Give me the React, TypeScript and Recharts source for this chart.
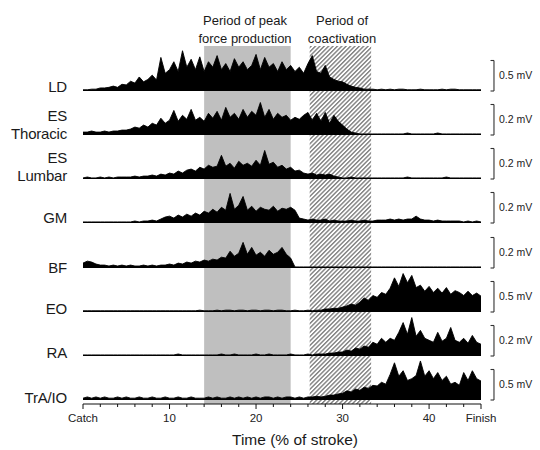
import React from 'react';
import {
  AreaChart,
  Area,
  ComposedChart,
  Line,
  XAxis,
  YAxis,
  ReferenceArea,
  ReferenceLine,
} from 'recharts';

// ---------- data ----------
// sample step along the stroke (% of stroke)
const T_STEP = 0.5;
const X_DOMAIN = [0, 46];

const AXIS_TICKS = [0, 2, 4, 6, 8, 10, 12, 14, 16, 18, 20, 22, 24, 26, 28, 30, 32, 34, 36, 38, 40, 42, 44, 46];
const MAJOR_TICKS = [0, 10, 20, 30, 40, 46];
const TICK_LABELS: Record<number, string> = { 0: 'Catch', 10: '10', 20: '20', 30: '30', 40: '40', 46: 'Finish' };

const PEAK_FORCE = [14, 24];
const COACTIVATION = [26.2, 33.3];

const MUSCLES = ['LD', 'ES Thoracic', 'ES Lumbar', 'GM', 'BF', 'EO', 'RA', 'TrA/IO'];
const SCALES = [0.5, 0.2, 0.2, 0.2, 0.2, 0.5, 0.2, 0.5];

// EMG envelopes, mV
const LD = [
  0.02, 0.02, 0.03, 0.03, 0.05, 0.05, 0.06, 0.08, 0.06, 0.11,
  0.10, 0.16, 0.13, 0.23, 0.15, 0.19, 0.26, 0.18, 0.55, 0.29,
  0.35, 0.48, 0.32, 0.66, 0.39, 0.52, 0.35, 0.56, 0.32, 0.48,
  0.39, 0.58, 0.35, 0.45, 0.32, 0.53, 0.39, 0.48, 0.35, 0.42,
  0.60, 0.35, 0.55, 0.39, 0.45, 0.32, 0.48, 0.35, 0.42, 0.32,
  0.39, 0.29, 0.45, 0.58, 0.32, 0.29, 0.42, 0.23, 0.19, 0.16,
  0.15, 0.11, 0.08, 0.06, 0.05, 0.03, 0.03, 0.03, 0.02, 0.03,
  0.02, 0.03, 0.02, 0.03, 0.03, 0.02, 0.02, 0.02, 0.03, 0.02,
  0.02, 0.02, 0.02, 0.03, 0.02, 0.03, 0.03, 0.02, 0.02, 0.02,
  0.02, 0.02, 0.02,
];

const ES_THORACIC = [
  0.019, 0.019, 0.026, 0.019, 0.019, 0.026, 0.019, 0.026, 0.026, 0.032,
  0.032, 0.039, 0.052, 0.045, 0.065, 0.052, 0.077, 0.065, 0.11, 0.077,
  0.097, 0.161, 0.09, 0.129, 0.103, 0.168, 0.097, 0.116, 0.09, 0.142,
  0.11, 0.155, 0.097, 0.181, 0.116, 0.142, 0.103, 0.168, 0.116, 0.155,
  0.129, 0.213, 0.116, 0.168, 0.103, 0.142, 0.116, 0.129, 0.097, 0.116,
  0.103, 0.129, 0.148, 0.097, 0.142, 0.09, 0.148, 0.077, 0.129, 0.09,
  0.065, 0.039, 0.019, 0.013, 0.007, 0.007, 0.007, 0.007, 0.007, 0.007,
  0.007, 0.007, 0.007, 0.007, 0.007, 0.013, 0.007, 0.007, 0.007, 0.007,
  0.007, 0.007, 0.013, 0.007, 0.007, 0.007, 0.007, 0.007, 0.007, 0.007,
  0.007, 0.007, 0.007,
];

const ES_LUMBAR = [
  0.007, 0.013, 0.007, 0.007, 0.013, 0.007, 0.013, 0.007, 0.013, 0.013,
  0.013, 0.013, 0.019, 0.013, 0.019, 0.019, 0.026, 0.019, 0.032, 0.026,
  0.039, 0.032, 0.052, 0.039, 0.058, 0.065, 0.052, 0.077, 0.065, 0.09,
  0.077, 0.084, 0.155, 0.084, 0.103, 0.071, 0.116, 0.09, 0.103, 0.084,
  0.123, 0.09, 0.187, 0.097, 0.11, 0.077, 0.09, 0.065, 0.077, 0.052,
  0.058, 0.039, 0.032, 0.039, 0.026, 0.032, 0.026, 0.032, 0.019, 0.013,
  0.007, 0.007, 0.013, 0.007, 0.007, 0.007, 0.007, 0.007, 0.007, 0.007,
  0.007, 0.007, 0.007, 0.007, 0.007, 0.013, 0.007, 0.007, 0.007, 0.007,
  0.007, 0.007, 0.007, 0.007, 0.013, 0.007, 0.007, 0.007, 0.007, 0.007,
  0.007, 0.007, 0.007,
];

const GM = [
  0.007, 0.007, 0.007, 0.007, 0.007, 0.007, 0.007, 0.007, 0.007, 0.007,
  0.007, 0.007, 0.013, 0.007, 0.013, 0.013, 0.019, 0.013, 0.026, 0.039,
  0.045, 0.032, 0.052, 0.039, 0.058, 0.045, 0.065, 0.052, 0.077, 0.065,
  0.09, 0.071, 0.103, 0.084, 0.194, 0.09, 0.116, 0.174, 0.084, 0.11,
  0.077, 0.103, 0.09, 0.084, 0.11, 0.077, 0.097, 0.09, 0.103, 0.084,
  0.032, 0.026, 0.019, 0.026, 0.019, 0.019, 0.026, 0.013, 0.019, 0.013,
  0.013, 0.013, 0.019, 0.013, 0.013, 0.019, 0.013, 0.013, 0.019, 0.019,
  0.019, 0.026, 0.019, 0.026, 0.019, 0.026, 0.026, 0.045, 0.026, 0.019,
  0.019, 0.013, 0.019, 0.013, 0.013, 0.013, 0.013, 0.013, 0.007, 0.013,
  0.007, 0.013, 0.007,
];

const BF = [
  0.032, 0.045, 0.039, 0.026, 0.019, 0.019, 0.013, 0.019, 0.013, 0.019,
  0.013, 0.019, 0.013, 0.013, 0.019, 0.013, 0.019, 0.013, 0.019, 0.019,
  0.026, 0.019, 0.032, 0.026, 0.039, 0.032, 0.045, 0.039, 0.052, 0.045,
  0.058, 0.052, 0.071, 0.065, 0.11, 0.077, 0.097, 0.168, 0.09, 0.135,
  0.084, 0.103, 0.077, 0.116, 0.09, 0.103, 0.135, 0.09, 0.065, 0.007,
  0.007, 0.007, 0.007, 0.007, 0.007, 0.007, 0.007, 0.007, 0.007, 0.007,
  0.007, 0.007, 0.007, 0.007, 0.007, 0.007, 0.007, 0.007, 0.007, 0.007,
  0.007, 0.007, 0.007, 0.007, 0.007, 0.007, 0.007, 0.007, 0.007, 0.007,
  0.007, 0.007, 0.007, 0.007, 0.007, 0.007, 0.007, 0.007, 0.007, 0.007,
  0.007, 0.007, 0.007,
];

const EO = [
  0.02, 0.02, 0.02, 0.02, 0.02, 0.02, 0.02, 0.02, 0.02, 0.02,
  0.02, 0.02, 0.02, 0.02, 0.02, 0.02, 0.02, 0.02, 0.02, 0.02,
  0.02, 0.02, 0.02, 0.02, 0.02, 0.02, 0.02, 0.03, 0.02, 0.02,
  0.02, 0.03, 0.02, 0.03, 0.03, 0.02, 0.03, 0.03, 0.02, 0.03,
  0.03, 0.02, 0.03, 0.03, 0.02, 0.03, 0.03, 0.02, 0.02, 0.03,
  0.02, 0.02, 0.03, 0.02, 0.03, 0.03, 0.05, 0.05, 0.06, 0.06,
  0.08, 0.10, 0.13, 0.11, 0.16, 0.23, 0.19, 0.27, 0.24, 0.32,
  0.29, 0.39, 0.56, 0.42, 0.63, 0.48, 0.60, 0.40, 0.44, 0.34,
  0.42, 0.32, 0.39, 0.31, 0.40, 0.29, 0.35, 0.32, 0.27, 0.34,
  0.27, 0.31, 0.26,
];

const RA = [
  0.007, 0.007, 0.007, 0.007, 0.007, 0.007, 0.007, 0.007, 0.007, 0.007,
  0.007, 0.007, 0.007, 0.007, 0.007, 0.007, 0.007, 0.007, 0.007, 0.007,
  0.007, 0.007, 0.013, 0.007, 0.007, 0.007, 0.007, 0.007, 0.007, 0.007,
  0.007, 0.007, 0.013, 0.007, 0.007, 0.013, 0.007, 0.007, 0.007, 0.007,
  0.013, 0.007, 0.007, 0.013, 0.007, 0.007, 0.007, 0.007, 0.013, 0.007,
  0.007, 0.007, 0.013, 0.007, 0.013, 0.013, 0.013, 0.019, 0.019, 0.026,
  0.026, 0.039, 0.032, 0.052, 0.045, 0.065, 0.058, 0.09, 0.077, 0.116,
  0.09, 0.116, 0.103, 0.155, 0.219, 0.142, 0.252, 0.129, 0.168, 0.116,
  0.103, 0.09, 0.155, 0.097, 0.116, 0.187, 0.103, 0.09, 0.116, 0.084,
  0.135, 0.09, 0.077,
];

const TRA_IO = [
  0.03, 0.05, 0.03, 0.05, 0.03, 0.05, 0.03, 0.03, 0.05, 0.03,
  0.05, 0.03, 0.03, 0.05, 0.03, 0.03, 0.05, 0.03, 0.03, 0.05,
  0.03, 0.03, 0.05, 0.03, 0.03, 0.05, 0.03, 0.03, 0.03, 0.05,
  0.03, 0.05, 0.03, 0.03, 0.05, 0.03, 0.05, 0.03, 0.05, 0.03,
  0.05, 0.03, 0.05, 0.05, 0.03, 0.05, 0.03, 0.05, 0.05, 0.03,
  0.05, 0.03, 0.05, 0.05, 0.06, 0.05, 0.06, 0.08, 0.08, 0.10,
  0.11, 0.15, 0.13, 0.18, 0.16, 0.21, 0.19, 0.24, 0.23, 0.29,
  0.26, 0.42, 0.61, 0.39, 0.48, 0.32, 0.35, 0.40, 0.64, 0.39,
  0.48, 0.35, 0.45, 0.32, 0.39, 0.26, 0.29, 0.24, 0.45, 0.32,
  0.48, 0.35, 0.31,
];

const SERIES = [LD, ES_THORACIC, ES_LUMBAR, GM, BF, EO, RA, TRA_IO];

// ---------- layout ----------
const W = 540;
const H = 450;
const PLOT_LEFT = 83;
const PLOT_RIGHT = 59;
const FONT = "'Liberation Sans', Arial, Helvetica, sans-serif";
const ROW_H = 45; // px of plot height above each baseline
const SCALE_PX = 30.5; // px taken by one calibration bar
const BASELINES = [91, 135, 179, 223, 267.5, 312, 356, 400];
const LABEL_TOPS = [77.5, 106.5, 149, 208.5, 258.5, 300, 343.5, 388.5];

function AxisTick(props: any) {
  const { x, y, payload } = props;
  const v = payload.value;
  const major = MAJOR_TICKS.includes(v);
  const lbl = TICK_LABELS[v];
  return (
    <g>
      <line x1={x} x2={x} y1={y} y2={y + (major ? 5 : 3)} stroke="#111" strokeWidth={1} />
      {lbl ? (
        <text x={x} y={y + 18} textAnchor="middle" fontSize={11.5} fill="#222" fontFamily={FONT}>
          {lbl}
        </text>
      ) : null}
    </g>
  );
}

function Row({ idx }: { idx: number }) {
  const values = SERIES[idx];
  const scale = SCALES[idx];
  const data = values.map((v, i) => ({ t: i * T_STEP, v }));
  const yMax = (scale * ROW_H) / SCALE_PX;
  const top = BASELINES[idx] - ROW_H;
  return (
    <div style={{ position: 'absolute', left: 0, top, width: W, height: ROW_H + 5 }}>
      <AreaChart width={W} height={ROW_H + 5} data={data} margin={{ top: 0, right: PLOT_RIGHT, bottom: 5, left: PLOT_LEFT }}>
        <XAxis dataKey="t" type="number" domain={X_DOMAIN} hide />
        <YAxis type="number" domain={[0, yMax]} hide />
        <Area
          type="linear"
          dataKey="v"
          fill="#000"
          fillOpacity={1}
          stroke="#000"
          strokeWidth={0.9}
          dot={false}
          activeDot={false}
          isAnimationActive={false}
        />
        <ReferenceLine
          segment={[{ x: 47.5, y: 0 }, { x: 47.5, y: scale }]}
          ifOverflow="visible"
          stroke="#333"
          strokeWidth={1.1}
          label={{ value: `${scale} mV`, position: 'right', offset: 5, fontSize: 10.5, fill: '#222', fontFamily: FONT }}
        />
        <ReferenceLine segment={[{ x: 47.1, y: scale }, { x: 47.5, y: scale }]} ifOverflow="visible" stroke="#333" strokeWidth={1.1} />
        <ReferenceLine segment={[{ x: 47.1, y: 0 }, { x: 47.5, y: 0 }]} ifOverflow="visible" stroke="#333" strokeWidth={1.1} />
      </AreaChart>
    </div>
  );
}

const BG_DATA = [{ t: X_DOMAIN[0], y: 0 }, { t: X_DOMAIN[1], y: 1 }];

export default function App() {
  return (
    <div style={{ position: 'absolute', left: 0, top: 0, width: W, height: H, background: '#fff', fontFamily: FONT, overflow: 'hidden' }}>
      <svg width={0} height={0} style={{ position: 'absolute' }}>
        <defs>
          <pattern id="hatch" patternUnits="userSpaceOnUse" width={3.1} height={3.1} patternTransform="rotate(45)">
            <rect x={0} y={0} width={3.1} height={3.1} fill="#fff" />
            <line x1={1.5} y1={0} x2={1.5} y2={3.1} stroke="#6a6a6a" strokeWidth={1.2} />
          </pattern>
        </defs>
      </svg>
      <div style={{ position: 'absolute', left: 0, top: 0 }}>
        <ComposedChart width={W} height={H} data={BG_DATA} margin={{ top: 46, right: PLOT_RIGHT, bottom: 26, left: PLOT_LEFT }}>
          <XAxis
            dataKey="t"
            type="number"
            domain={X_DOMAIN}
            ticks={AXIS_TICKS}
            interval={0}
            height={20}
            tickSize={0}
            tickMargin={0}
            tickLine={false}
            axisLine={{ stroke: '#111', strokeWidth: 1.2 }}
            tick={<AxisTick />}
          />
          <YAxis type="number" hide domain={[0, 1]} />
          <ReferenceArea x1={PEAK_FORCE[0]} x2={PEAK_FORCE[1]} y1={0} y2={1} fill="#bfbfbf" fillOpacity={1} stroke="none" ifOverflow="visible" />
          <ReferenceArea x1={COACTIVATION[0]} x2={COACTIVATION[1]} y1={0} y2={1} fill="url(#hatch)" fillOpacity={1} stroke="none" ifOverflow="visible" />
          <Line dataKey="y" stroke="none" dot={false} activeDot={false} isAnimationActive={false} legendType="none" />
        </ComposedChart>
      </div>
      {MUSCLES.map((m, i) => (
        <Row key={m} idx={i} />
      ))}
      {MUSCLES.map((m, i) => (
        <div
          key={'lbl' + m}
          style={{
            position: 'absolute',
            left: 0,
            top: LABEL_TOPS[i],
            width: 67,
            textAlign: 'right',
            fontSize: 15,
            lineHeight: '18px',
            color: '#1a1a1a',
            letterSpacing: '-0.2px',
          }}
        >
          {m.split(' ').map((part) => (
            <div key={part}>{part}</div>
          ))}
        </div>
      ))}
      <div style={{ position: 'absolute', left: 175, top: 12, width: 140, textAlign: 'center', fontSize: 13, lineHeight: '18.3px', color: '#1a1a1a' }}>
        <div>Period of peak</div>
        <div>force production</div>
      </div>
      <div style={{ position: 'absolute', left: 272, top: 12, width: 140, textAlign: 'center', fontSize: 13, lineHeight: '18.3px', color: '#1a1a1a' }}>
        <div>Period of</div>
        <div>coactivation</div>
      </div>
      <div style={{ position: 'absolute', left: 195, top: 431, width: 200, textAlign: 'center', fontSize: 15.5, lineHeight: '18px', color: '#1a1a1a' }}>
        Time (% of stroke)
      </div>
    </div>
  );
}
